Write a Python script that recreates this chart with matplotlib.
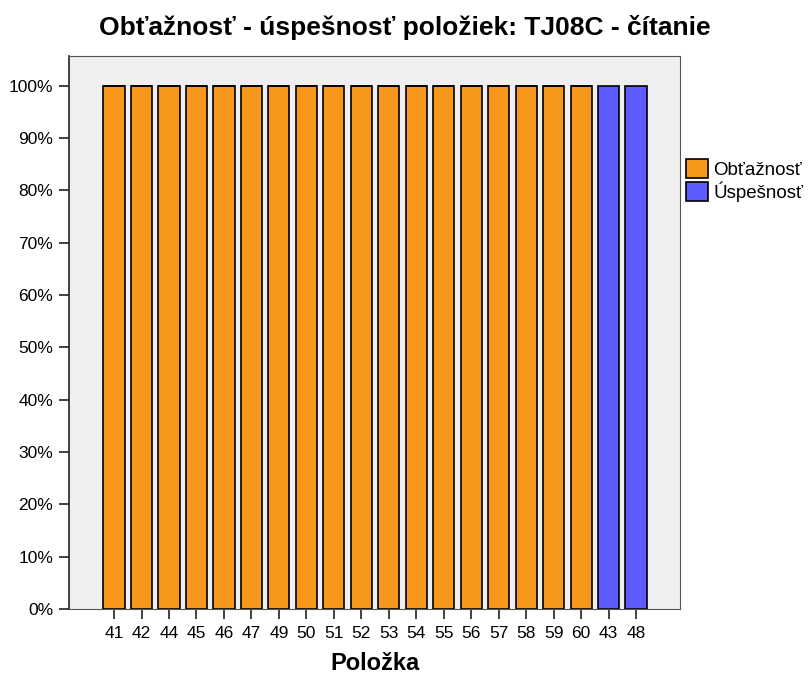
import matplotlib
matplotlib.use("Agg")
import matplotlib.pyplot as plt
import numpy as np

categories = ["41", "42", "44", "45", "46", "47", "49", "50", "51", "52", "53",
              "54", "55", "56", "57", "58", "59", "60", "43", "48"]
obtaznost = [100, 100, 100, 100, 100, 100, 100, 100, 100, 100, 100,
             100, 100, 100, 100, 100, 100, 100, 0, 0]
uspesnost = [0, 0, 0, 0, 0, 0, 0, 0, 0, 0, 0,
             0, 0, 0, 0, 0, 0, 0, 100, 100]
yticks = [0, 10, 20, 30, 40, 50, 60, 70, 80, 90, 100]

plt.rcParams['font.family'] = ['Liberation Sans', 'DejaVu Sans']

fig = plt.figure(figsize=(8.10, 6.79), dpi=100)
ax = fig.add_axes([69/810, 1-609/679, (680-69)/810, (609-56)/679])
ax.set_facecolor("#EFEFEF")

x = np.arange(len(categories))
w = 0.77
ax.bar(x, obtaznost, width=w, color="#F7981D", edgecolor="black", linewidth=1.2,
       label="Obťažnosť")
ax.bar(x, uspesnost, width=w, bottom=obtaznost, color="#5C5CFF", edgecolor="black",
       linewidth=1.2, label="Úspešnosť")

ax.set_xlim(-1.64, len(categories) - 1 + 1.60)
ax.set_ylim(0, 105.7)
ax.set_yticks(yticks)
ax.set_yticklabels([f"{v}%" for v in yticks], fontsize=12.5)
ax.set_xticks(x)
ax.set_xticklabels(categories, fontsize=12.5)
ax.tick_params(axis='y', length=7.5, width=1.2, color="#222222", pad=4)
ax.tick_params(axis='x', length=7.5, width=1.2, color="#222222", pad=5)

for s in ["top", "right", "bottom"]:
    ax.spines[s].set_color("#555555")
    ax.spines[s].set_linewidth(0.8)
ax.spines["left"].set_color("#222222")
ax.spines["left"].set_linewidth(1.2)

ax.set_xlabel("Položka", fontsize=17, fontweight="bold", labelpad=8)
fig.suptitle("Obťažnosť - úspešnosť položiek: TJ08C - čítanie", fontsize=19,
             fontweight="bold", x=0.5, y=0.978)

leg = ax.legend(loc="upper left", bbox_to_anchor=(0.995, 0.83), frameon=False,
                fontsize=13.5, handlelength=1.15, handleheight=1.15, handletextpad=0.3,
                labelspacing=0.12, borderaxespad=0.3, borderpad=0.2)

fig.savefig("out.png", dpi=100)
